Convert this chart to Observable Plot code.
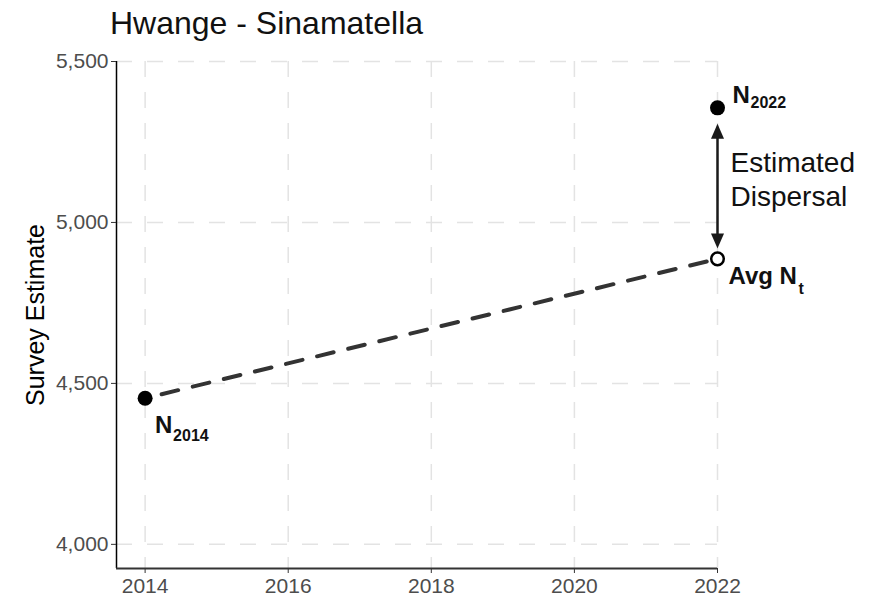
<!DOCTYPE html>
<html>
<head>
<meta charset="utf-8">
<script src="https://cdn.jsdelivr.net/npm/d3@7"></script>
<script src="https://cdn.jsdelivr.net/npm/@observablehq/plot@0.6"></script>
<style>
  body { margin: 0; background: #fff; font-family: "Liberation Sans", Arial, Helvetica, sans-serif; }
  #title { height: 46px; line-height: 46px; font-size: 32px; padding-left: 110px; color: #111; white-space: nowrap; }
</style>
</head>
<body>
<div id="title">Hwange - Sinamatella</div>
<div id="chart"></div>
<script>
// ---- data ----
const yearTicks = [2014, 2016, 2018, 2020, 2022];
const estimateTicks = [4000, 4500, 5000, 5500];
const xDomain = [2013.6, 2022];
const yDomain = [3925, 5500];

const surveyYears = [2014, 2022];
const surveyEstimates = [4454, 5356];
const surveySubscripts = ["2014", "2022"];

const avgYears = [2022];
const avgEstimates = [4887];

const trendYears = [2014, 2022];
const trendEstimates = [4454, 4887];

const arrowYears = [2022];
const arrowTops = [5307];
const arrowBottoms = [4919];

const yLabel = ["Survey Estimate"];
const dispersalText = ["Estimated\nDispersal"];

// ---- tables ----
const surveys = surveyYears.map((year, i) => ({year, value: surveyEstimates[i], sub: surveySubscripts[i]}));
const avg = avgYears.map((year, i) => ({year, value: avgEstimates[i]}));
const trend = trendYears.map((year, i) => ({year, value: trendEstimates[i]}));
const arrows = arrowYears.map((year, i) => ({year, top: arrowTops[i], bottom: arrowBottoms[i]}));
const dispersalLabel = dispersalText.map((text, i) => ({
  year: arrowYears[i],
  value: (surveyEstimates[1] + avgEstimates[0]) / 2,
  text
}));

// arrowhead symbols (tip at the data point)
const headUp = {draw(ctx) { ctx.moveTo(0, 0); ctx.lineTo(6.5, 15); ctx.lineTo(-6.5, 15); ctx.closePath(); }};
const headDown = {draw(ctx) { ctx.moveTo(0, 0); ctx.lineTo(6.5, -15); ctx.lineTo(-6.5, -15); ctx.closePath(); }};

const font = '"Liberation Sans", Arial, Helvetica, sans-serif';
const ink = "#111";

const chart = Plot.plot({
  width: 872,
  height: 550,
  marginTop: 15,
  marginRight: 155,
  marginBottom: 28,
  marginLeft: 116,
  style: {fontFamily: font, fontSize: "21px", background: "#fff", color: "#111"},
  x: {domain: xDomain},
  y: {domain: yDomain},
  marks: [
    Plot.gridX(yearTicks, {stroke: "#e3e3e3", strokeOpacity: 1, strokeWidth: 1.5, strokeDasharray: "16,15"}),
    Plot.gridY(estimateTicks, {stroke: "#e3e3e3", strokeOpacity: 1, strokeWidth: 1.5, strokeDasharray: "16,15"}),
    Plot.ruleX([xDomain[0]], {stroke: "#000", strokeWidth: 1.5}),
    Plot.ruleY([yDomain[0]], {stroke: "#333", strokeWidth: 2}),
    Plot.axisY({ticks: estimateTicks, tickFormat: d3.format(","), tickSize: 5, tickPadding: 3,
      stroke: "#333", fill: "#4d4d4d", fontSize: 21, label: null}),
    Plot.axisX({ticks: yearTicks, tickFormat: d3.format("d"), tickSize: 5, tickPadding: 5,
      stroke: "#333", fill: "#4d4d4d", fontSize: 21, label: null}),
    Plot.text(yLabel, {text: d => d, frameAnchor: "left", textAnchor: "middle", rotate: -90, dx: -81, dy: 0,
      fontSize: 25, fill: "#000"}),
    // dashed trend line
    Plot.line(trend, {x: "year", y: "value", stroke: "#333", strokeWidth: 4,
      strokeDasharray: "17,15", strokeDashoffset: 15}),
    // dispersal arrow
    Plot.ruleX(arrows, {x: "year", y1: "top", y2: "bottom", stroke: "#1a1a1a", strokeWidth: 2.5,
      insetTop: 8, insetBottom: 8}),
    Plot.dot(arrows, {x: "year", y: "top", symbol: headUp, fill: "#1a1a1a", stroke: "none"}),
    Plot.dot(arrows, {x: "year", y: "bottom", symbol: headDown, fill: "#1a1a1a", stroke: "none"}),
    // points
    Plot.dot(surveys, {x: "year", y: "value", r: 7.5, fill: "#000", stroke: "none"}),
    Plot.dot(avg, {x: "year", y: "value", r: 6.3, fill: "#fff", stroke: "#000", strokeWidth: 2.5}),
    // N2014 label
    Plot.text(surveys.slice(0, 1), {x: "year", y: "value", text: () => "N", fontWeight: "bold", fontSize: 24,
      fill: ink, textAnchor: "start", lineAnchor: "bottom", dx: 10, dy: 35}),
    Plot.text(surveys.slice(0, 1), {x: "year", y: "value", text: "sub", fontWeight: "bold", fontSize: 16,
      fill: ink, textAnchor: "start", lineAnchor: "bottom", dx: 28, dy: 43}),
    // N2022 label
    Plot.text(surveys.slice(1, 2), {x: "year", y: "value", text: () => "N", fontWeight: "bold", fontSize: 24,
      fill: ink, textAnchor: "start", lineAnchor: "bottom", dx: 15, dy: -5}),
    Plot.text(surveys.slice(1, 2), {x: "year", y: "value", text: "sub", fontWeight: "bold", fontSize: 16,
      fill: ink, textAnchor: "start", lineAnchor: "bottom", dx: 33, dy: 0}),
    // Avg Nt label
    Plot.text(avg, {x: "year", y: "value", text: () => "Avg N", fontWeight: "bold", fontSize: 24,
      fill: ink, textAnchor: "start", lineAnchor: "bottom", dx: 11, dy: 25}),
    Plot.text(avg, {x: "year", y: "value", text: () => "t", fontWeight: "bold", fontSize: 16,
      fill: ink, textAnchor: "start", lineAnchor: "bottom", dx: 81, dy: 35}),
    // Estimated Dispersal
    Plot.text(dispersalLabel, {x: "year", y: "value", text: "text", fontSize: 28, fill: ink,
      textAnchor: "start", lineAnchor: "bottom", lineHeight: 1.22, dx: 13, dy: 23})
  ]
});
document.getElementById("chart").appendChild(chart);
</script>
</body>
</html>
